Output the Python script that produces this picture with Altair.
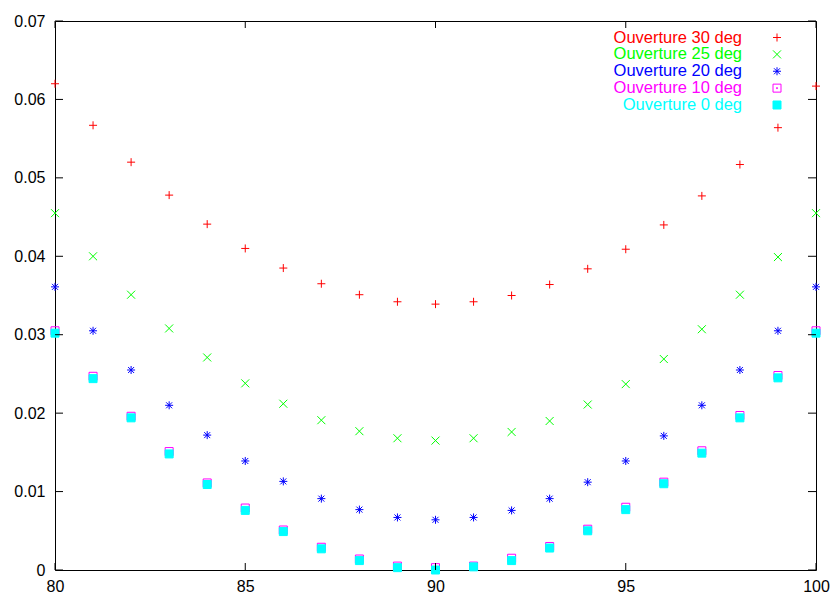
import altair as alt
import pandas as pd

# ---- data ----
x_vals = list(range(80, 101))
series_names = ["Ouverture 30 deg", "Ouverture 25 deg", "Ouverture 20 deg",
                "Ouverture 10 deg", "Ouverture 0 deg"]
series_colors = ["#ff0000", "#00ff00", "#0000ff", "#ff00ff", "#00ffff"]

y30 = [0.0620, 0.0567, 0.0520, 0.0478, 0.0441, 0.0410, 0.0385, 0.0365, 0.0351, 0.0342, 0.0339,
       0.0342, 0.0350, 0.0364, 0.0384, 0.0409, 0.0440, 0.0477, 0.0517, 0.0564, 0.0617]
y25 = [0.0455, 0.0400, 0.0351, 0.0308, 0.0271, 0.0238, 0.0212, 0.0191, 0.0177, 0.0168, 0.0165,
       0.0168, 0.0176, 0.0190, 0.0211, 0.0237, 0.0269, 0.0307, 0.0351, 0.0399, 0.0455]
y20 = [0.0361, 0.0305, 0.0255, 0.0210, 0.0172, 0.0139, 0.0113, 0.0091, 0.0077, 0.0067, 0.0064,
       0.0067, 0.0076, 0.0091, 0.0112, 0.0139, 0.0171, 0.0210, 0.0255, 0.0305, 0.0361]
y10 = [0.0305, 0.0247, 0.0196, 0.0151, 0.0111, 0.0079, 0.0051, 0.0029, 0.0014, 0.0005, 0.0003,
       0.0005, 0.0015, 0.0030, 0.0052, 0.0080, 0.0112, 0.0152, 0.0197, 0.0248, 0.0305]
y0 = [0.0302, 0.0244, 0.0194, 0.0148, 0.0109, 0.0076, 0.0049, 0.0027, 0.0012, 0.0003, 0.0000,
      0.0004, 0.0012, 0.0028, 0.0050, 0.0077, 0.0110, 0.0149, 0.0194, 0.0245, 0.0302]

x_ticks = [80, 85, 90, 95, 100]
y_ticks = [0, 0.01, 0.02, 0.03, 0.04, 0.05, 0.06, 0.07]

rows = []
for name, ys in zip(series_names, [y30, y25, y20, y10, y0]):
    for xv, yv in zip(x_vals, ys):
        rows.append({"series": name, "angle": xv, "value": yv})
df = pd.DataFrame(rows)

# ---- styling ----
W, H = 761, 549
FONT = "Liberation Sans"

plus = "M-1,0L1,0M0,-1L0,1"
cross = "M-1,-1L1,1M-1,1L1,-1"
star = "M-1,0L1,0M0,-1L0,1M-0.75,-0.75L0.75,0.75M-0.75,0.75L0.75,-0.75"
boxdot = "M-1,-1L1,-1L1,1L-1,1Z M-0.12,-0.12L0.12,-0.12L0.12,0.12L-0.12,0.12Z"
square = "M-1,-1L1,-1L1,1L-1,1Z"

xscale = alt.Scale(domain=[80, 100], nice=False, zero=False)
yscale = alt.Scale(domain=[0, 0.07], nice=False, zero=False)
shape_scale = alt.Scale(domain=series_names, range=[plus, cross, star, boxdot, square])
stroke_scale = alt.Scale(domain=series_names, range=series_colors)
fill_scale = alt.Scale(domain=series_names,
                       range=["transparent", "transparent", "transparent", "transparent", "#00ffff"])
size_scale = alt.Scale(domain=series_names, range=[64, 64, 49, 70, 54])

x_axis = alt.Axis(values=x_ticks, title=None, labelPadding=21, labelBaseline="alphabetic",
                  labelFlush=False)
y_axis = alt.Axis(values=y_ticks, format=".2~f", title=None, labelPadding=10)

points = alt.Chart(df).mark_point(filled=True, strokeWidth=1, opacity=1).encode(
    x=alt.X("angle:Q", scale=xscale, axis=x_axis),
    y=alt.Y("value:Q", scale=yscale, axis=y_axis),
    shape=alt.Shape("series:N", scale=shape_scale, legend=None),
    stroke=alt.Stroke("series:N", scale=stroke_scale, legend=None),
    fill=alt.Fill("series:N", scale=fill_scale, legend=None),
    size=alt.Size("series:N", scale=size_scale, legend=None),
)

ydf = pd.DataFrame({"value": y_ticks})
xdf = pd.DataFrame({"angle": x_ticks})
left_ticks = alt.Chart(ydf).mark_rule(color="black", strokeWidth=1).encode(
    y=alt.Y("value:Q", scale=yscale, axis=None), x=alt.value(0), x2=alt.value(8))
right_ticks = alt.Chart(ydf).mark_rule(color="black", strokeWidth=1).encode(
    y=alt.Y("value:Q", scale=yscale, axis=None), x=alt.value(W - 8), x2=alt.value(W))
bottom_ticks = alt.Chart(xdf).mark_rule(color="black", strokeWidth=1).encode(
    x=alt.X("angle:Q", scale=xscale, axis=x_axis), y=alt.value(H - 7), y2=alt.value(H))
top_ticks = alt.Chart(xdf).mark_rule(color="black", strokeWidth=1).encode(
    x=alt.X("angle:Q", scale=xscale, axis=x_axis), y=alt.value(0), y2=alt.value(7))

leg_df = pd.DataFrame({"series": series_names, "row": list(range(len(series_names)))})
leg_y = alt.Y("row:Q", scale=alt.Scale(domain=[0, 4], range=[16.5, 84]), axis=None)
leg_text = alt.Chart(leg_df).mark_text(
    align="right", baseline="middle", fontSize=16.5, font=FONT).encode(
    x=alt.value(687), y=leg_y, text="series:N",
    color=alt.Color("series:N", scale=stroke_scale, legend=None))
leg_sym = alt.Chart(leg_df).mark_point(filled=True, strokeWidth=1, opacity=1).encode(
    x=alt.value(722), y=leg_y,
    shape=alt.Shape("series:N", scale=shape_scale, legend=None),
    stroke=alt.Stroke("series:N", scale=stroke_scale, legend=None),
    fill=alt.Fill("series:N", scale=fill_scale, legend=None),
    size=alt.Size("series:N", scale=size_scale, legend=None),
)

chart = alt.layer(
    points, left_ticks, right_ticks, bottom_ticks, top_ticks, leg_text, leg_sym
).resolve_scale(y="independent").properties(
    width=W, height=H,
    padding={"left": 47, "top": 13, "right": 14, "bottom": 23},
    autosize=alt.AutoSizeParams(type="none"),
    background="white",
).configure_view(
    stroke="black", strokeWidth=1
).configure_axis(
    grid=False, domain=False, ticks=False, tickSize=0,
    labelFont=FONT, labelFontSize=16, labelColor="black",
)

chart.save("out.html", embed_options={"renderer": "svg", "actions": False})
